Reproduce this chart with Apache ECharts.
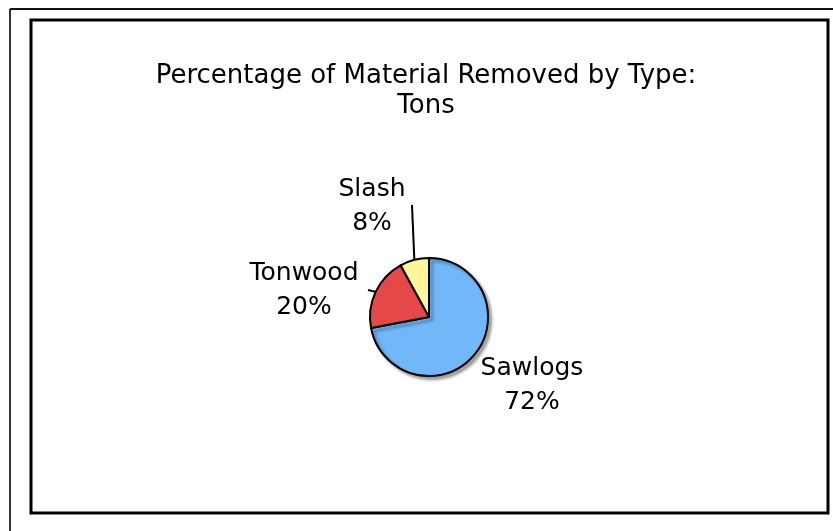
<!DOCTYPE html>
<html>
<head>
<meta charset="utf-8">
<script src="https://cdn.jsdelivr.net/npm/echarts@6/dist/echarts.min.js"></script>
<style>
html, body { margin: 0; padding: 0; background: #fff; }
#chart { width: 833px; height: 531px; }
</style>
</head>
<body>
<div id="chart"></div>
<script>
const categories = ['Sawlogs', 'Tonwood', 'Slash']
const values = [72, 20, 8]
const colors = ['#70b8f8', '#e64848', '#fff59b']

// where each label sits (centre of the two-line text)
const labelSpots = [[532, 385], [304, 290], [372, 206]]

const chart = echarts.init(document.getElementById('chart'))
chart.setOption({
    animation: false,
    title: {
        text: 'Percentage of Material Removed by Type:\nTons',
        left: 421,
        textAlign: 'center',
        top: 56,
        textStyle: {
            fontFamily: 'DejaVu Sans',
            fontSize: 26,
            fontWeight: 'normal',
            color: '#000',
            lineHeight: 30
        }
    },
    graphic: [
        { type: 'line', shape: { x1: 10, y1: 9, x2: 833, y2: 9 }, style: { stroke: '#111', lineWidth: 2 } },
        { type: 'line', shape: { x1: 10, y1: 9, x2: 10, y2: 531 }, style: { stroke: '#333', lineWidth: 2 } },
        { type: 'rect', shape: { x: 31, y: 20, width: 797, height: 493 }, style: { fill: 'none', stroke: '#000', lineWidth: 3 } }
    ],
    series: [
        {
            type: 'pie',
            center: [429, 317],
            radius: 59,
            startAngle: 90,
            clockwise: true,
            avoidLabelOverlap: false,
            itemStyle: { borderColor: '#000', borderWidth: 2 },
            label: {
                position: 'outside',
                formatter: '{b}\n{d}%',
                fontFamily: 'DejaVu Sans',
                fontSize: 25,
                lineHeight: 34,
                color: '#000'
            },
            labelLine: {
                show: true,
                length: 20,
                length2: 10,
                lineStyle: { color: '#000', width: 2 }
            },
            labelLayout: (p) => {
                const s = labelSpots[p.dataIndex]
                const res = { x: s[0], y: s[1], align: 'center', verticalAlign: 'middle' }
                const pts = p.labelLinePoints
                if (pts && p.dataIndex === 2) {
                    res.labelLinePoints = [pts[0], [412, 205], [412, 205]]
                } else if (pts && p.dataIndex === 1) {
                    res.labelLinePoints = [pts[0], [368, 290], [368, 290]]
                }
                return res
            },
            data: categories.map((name, i) => {
                const item = { name: name, value: values[i], itemStyle: { color: colors[i] } }
                if (i === 0) {
                    item.labelLine = { show: false }
                    item.itemStyle.shadowColor = 'rgba(0,0,0,0.35)'
                    item.itemStyle.shadowBlur = 3
                    item.itemStyle.shadowOffsetX = 3
                    item.itemStyle.shadowOffsetY = 3
                }
                return item
            })
        }
    ]
})
</script>
</body>
</html>
